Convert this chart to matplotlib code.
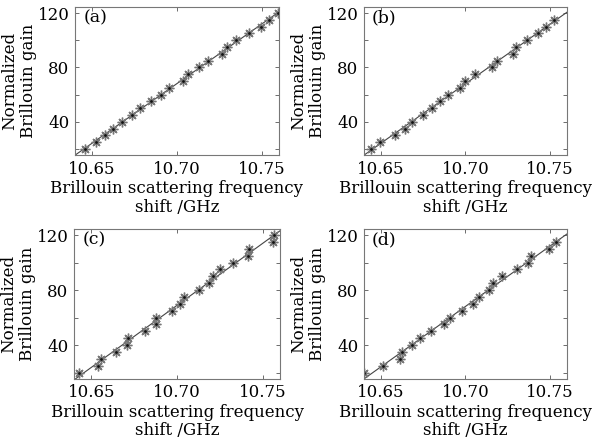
import numpy as np
import matplotlib
matplotlib.use('Agg')
import matplotlib.pyplot as plt

plt.rcParams['font.family'] = 'DejaVu Serif'
plt.rcParams['font.size'] = 12

# normalized gain levels (same steps in every panel)
gain_a = [20, 25, 30, 35, 40, 45, 50, 55, 60, 65, 70, 75, 80, 85, 90, 95, 100, 105, 110, 115, 120]
freq_a = [10.6459, 10.6524, 10.6575, 10.6622, 10.6678, 10.6737, 10.6782, 10.6845, 10.6904, 10.6953,
          10.7034, 10.7066, 10.7131, 10.7184, 10.7263, 10.7296, 10.7345, 10.7425, 10.7492, 10.7541, 10.7592]

gain_b = [20, 25, 30, 35, 40, 45, 50, 55, 60, 65, 70, 75, 80, 85, 90, 95, 100, 105, 110, 115]
freq_b = [10.6441, 10.6495, 10.6583, 10.6642, 10.6682, 10.6751, 10.6800, 10.6849, 10.6898, 10.6967,
          10.6997, 10.7056, 10.7158, 10.7188, 10.7283, 10.7297, 10.7362, 10.7430, 10.7476, 10.7525]

gain_c = [20, 25, 30, 35, 40, 45, 50, 55, 60, 65, 70, 75, 80, 85, 90, 95, 100, 105, 110, 115, 120]
freq_c = [10.6431, 10.6538, 10.6557, 10.6645, 10.6707, 10.6716, 10.6814, 10.6878, 10.6878, 10.6969,
          10.7017, 10.7041, 10.7130, 10.7187, 10.7212, 10.7250, 10.7328, 10.7415, 10.7419, 10.7561, 10.7567]

gain_d = [20, 25, 30, 35, 40, 45, 50, 55, 60, 65, 70, 75, 80, 85, 90, 95, 100, 105, 110, 115]
freq_d = [10.6402, 10.6512, 10.6610, 10.6624, 10.6686, 10.6732, 10.6795, 10.6873, 10.6909, 10.6981,
          10.7042, 10.7081, 10.7140, 10.7164, 10.7217, 10.7305, 10.7370, 10.7390, 10.7494, 10.7537]

labels = ['(a)', '(b)', '(c)', '(d)']
xticks = [10.65, 10.70, 10.75]
yticks = [20, 40, 60, 80, 100, 120]
ytick_labels = ['', '40', '', '80', '', '120']

# axes boxes in figure fractions
boxes = [[0.1258, 0.6532, 0.3423, 0.3311],
         [0.6107, 0.6532, 0.3406, 0.3311],
         [0.1242, 0.1528, 0.3456, 0.3350],
         [0.6107, 0.1528, 0.3406, 0.3350]]

fig = plt.figure(figsize=(5.96, 4.47), dpi=100)

datos = [(freq_a, gain_a), (freq_b, gain_b), (freq_c, gain_c), (freq_d, gain_d)]
for i, (f, g) in enumerate(datos):
    ax = fig.add_axes(boxes[i])
    f = np.array(f)
    g = np.array(g)
    # linear fit
    p = np.polyfit(f, g, 1)
    xx = np.array([10.64, 10.76])
    ax.plot(xx, np.polyval(p, xx), color='#444444', lw=0.8)
    ax.plot(f, g, linestyle='none', marker=(8, 2, 0), markersize=7,
            markeredgecolor='#777777', markeredgewidth=1.0)
    ax.plot(f, g, linestyle='none', marker='o', markersize=2,
            color='#111111', markeredgewidth=0)
    ax.set_xlim(10.64, 10.76)
    ax.set_ylim(15.5, 124.5)
    ax.set_xticks(xticks)
    ax.set_xticklabels(['10.65', '10.70', '10.75'])
    ax.set_yticks(yticks)
    ax.set_yticklabels(ytick_labels)
    ax.tick_params(direction='in', length=3, width=0.6, color='#555555',
                   top=True, right=True, pad=4, labelsize=12)
    for s in ax.spines.values():
        s.set_color('#777777')
        s.set_linewidth(0.8)
    ax.set_xlabel('Brillouin scattering frequency\nshift /GHz', fontsize=12, labelpad=2,
                  linespacing=1.1)
    ax.set_ylabel('Normalized\nBrillouin gain', fontsize=12, labelpad=0.5, linespacing=1.1)
    ax.text(0.04, 0.93, labels[i], transform=ax.transAxes, ha='left', va='center',
            fontsize=12.5)

fig.savefig('out.png', dpi=100)
